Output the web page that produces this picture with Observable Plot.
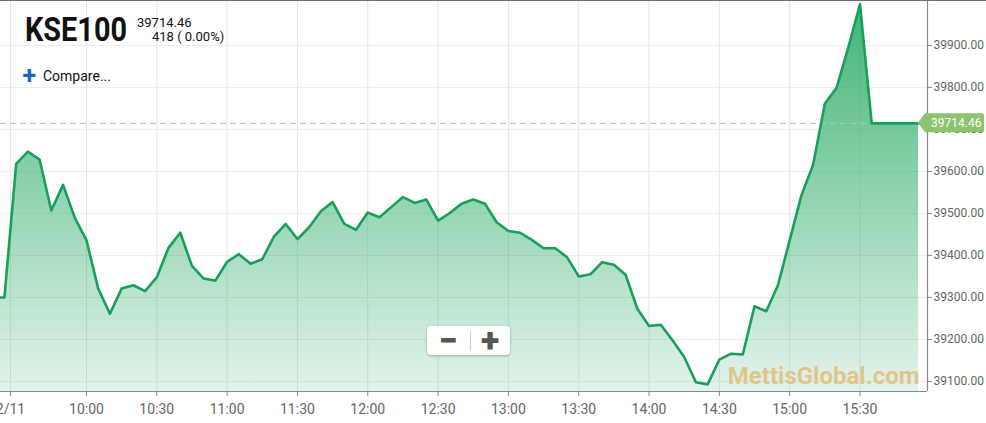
<!DOCTYPE html>
<html>
<head>
<meta charset="utf-8">
<script src="https://cdn.jsdelivr.net/npm/d3@7"></script>
<script src="https://cdn.jsdelivr.net/npm/@observablehq/plot@0.6"></script>
<style>
  html, body { margin: 0; padding: 0; background: #fff; overflow: hidden; }
  #wrap { position: relative; width: 986px; height: 423px; font-family: Roboto, sans-serif; }
  #topline { position: absolute; left: 0; top: 0; width: 986px; height: 1px; background: #6f6f6f; }
  #zoombox { position: absolute; left: 427px; top: 326px; width: 83px; height: 29px; background: #fff;
    border-radius: 4px; box-shadow: 0 1px 3px rgba(0,0,0,0.28); }
  #zoombox .sep { position: absolute; left: 43px; top: 4px; width: 1px; height: 21px; background: #d0d0d0; }
  #zoombox .btn { position: absolute; top: 0; width: 42px; height: 29px; line-height: 29px; text-align: center;
    font-family: Roboto, sans-serif; font-weight: 900; color: #555; font-size: 34px; }
</style>
</head>
<body>
<div id="wrap"></div>
<script>
// ---- data ----
const times = ["09:20","09:25","09:30","09:35","09:40","09:45","09:50","09:55",
  "10:00","10:05","10:10","10:15","10:20","10:25","10:30","10:35","10:40","10:45","10:50","10:55",
  "11:00","11:05","11:10","11:15","11:20","11:25","11:30","11:35","11:40","11:45","11:50","11:55",
  "12:00","12:05","12:10","12:15","12:20","12:25","12:30","12:35","12:40","12:45","12:50","12:55",
  "13:00","13:05","13:10","13:15","13:20","13:25","13:30","13:35","13:40","13:45","13:50","13:55",
  "14:00","14:05","14:10","14:15","14:20","14:25","14:30","14:35","14:40","14:45","14:50","14:55",
  "15:00","15:05","15:10","15:15","15:20","15:25","15:30","15:35","15:40","15:45","15:50","15:55"];
const values = [39300,39300,39618,39647,39628,39507,39568,39490,
  39436,39321,39261,39321,39329,39315,39348,39418,39454,39375,39345,39340,
  39385,39403,39380,39391,39445,39475,39439,39467,39505,39527,39475,39461,
  39502,39491,39515,39539,39525,39533,39483,39501,39523,39533,39523,39479,
  39458,39454,39437,39417,39417,39396,39350,39355,39384,39378,39354,39273,
  39232,39235,39198,39158,39098,39093,39152,39166,39164,39279,39267,39329,
  39436,39543,39616,39761,39799,39895,39998,39714.46,39714.46,39714.46,39714.46,39714.46];
const xTickTimes = ["09:27:35","10:00","10:30","11:00","11:30","12:00","12:30","13:00","13:30","14:00","14:30","15:00","15:30"];
const xTickLabels = ["2/11","10:00","10:30","11:00","11:30","12:00","12:30","13:00","13:30","14:00","14:30","15:00","15:30"];
const yTicks = [39100,39200,39300,39400,39500,39600,39700,39800,39900];
const symbol = "KSE100";
const lastValue = 39714.46;
const changeText = "418 ( 0.00%)";
const watermark = "MettisGlobal.com";

// ---- build ----
const toDate = s => { const [h, m, sec = 0] = s.split(":").map(Number); return new Date(Date.UTC(2019, 1, 11, h, m, sec)); };
const data = times.map((t, i) => ({t: toDate(t), v: values[i]}));
const xTicks = xTickTimes.map(toDate);
const xDomain = [toDate("09:23:19"), toDate("15:58:48")];
const yDomain = [39076, 40007];

const chart = Plot.plot({
  width: 986, height: 423,
  marginLeft: 0, marginRight: 59, marginTop: 0, marginBottom: 32,
  style: {fontFamily: "Roboto, sans-serif", fontSize: "12px", color: "#666", background: "transparent", overflow: "visible"},
  x: {type: "utc", domain: xDomain},
  y: {domain: yDomain},
  marks: [
    Plot.gridX(xTicks, {stroke: "#e6e6e6", strokeOpacity: 1}),
    Plot.gridY(yTicks, {stroke: "#ececec", strokeOpacity: 1}),
    Plot.areaY(data, {x: "t", y1: yDomain[0], y2: "v", fill: "url(#kseGrad)", clip: true}),
    Plot.ruleY([lastValue], {stroke: "#a3d38f", strokeDasharray: "6,4", strokeWidth: 1}),
    Plot.lineY(data, {x: "t", y: "v", stroke: "#17a057", strokeWidth: 2.6, clip: true}),
    Plot.text([watermark], {frameAnchor: "bottom-right", dx: -8, dy: -15, textAnchor: "end", lineAnchor: "middle",
      fill: "#e2c283", fillOpacity: 0.95, fontSize: 24, fontWeight: "bold"}),
    Plot.ruleY([yDomain[0]], {stroke: "#8a8a8a", strokeWidth: 1.2}),
    Plot.ruleX([xDomain[1]], {stroke: "#8a8a8a", strokeWidth: 1.2}),
    Plot.axisX(xTicks, {anchor: "bottom", tickFormat: (d, i) => xTickLabels[i], tickSize: 5, tickPadding: 8,
      fontSize: 14, stroke: "#8a8a8a", fill: "#666", label: null}),
    Plot.axisY(yTicks, {anchor: "right", tickFormat: d => d.toFixed(2), tickSize: 4, tickPadding: 2,
      fontSize: 12, stroke: "#8a8a8a", fill: "#666", label: null})
  ]
});

const svg = d3.select(chart);
svg.insert("defs", ":first-child").html(
  `<linearGradient id="kseGrad" x1="0" y1="0" x2="0" y2="1">
     <stop offset="0" stop-color="#22a760" stop-opacity="0.86"/>
     <stop offset="1" stop-color="#25a862" stop-opacity="0.13"/>
   </linearGradient>`);

// last-price tag on the right axis
const yc = chart.scale("y").apply(lastValue);
const xr = chart.scale("x").apply(xDomain[1]);
const tag = svg.append("g").attr("text-anchor", "start");
tag.append("path")
  .attr("d", `M${xr - 9},${yc} L${xr - 2},${yc - 9.5} L${xr + 55},${yc - 9.5} Q${xr + 57},${yc - 9.5} ${xr + 57},${yc - 7.5} L${xr + 57},${yc + 7.5} Q${xr + 57},${yc + 9.5} ${xr + 55},${yc + 9.5} L${xr - 2},${yc + 9.5} Z`)
  .attr("fill", "#8cc36e");
tag.append("text").attr("x", xr + 4).attr("y", yc + 4.3)
  .attr("fill", "#fff").attr("font-size", 12).attr("font-family", "Roboto, sans-serif")
  .text(lastValue.toFixed(2));

// header
const hdr = svg.append("g").attr("font-family", "Roboto, sans-serif").attr("text-anchor", "start");
hdr.append("text").attr("x", 25).attr("y", 40.6).attr("font-size", 33).attr("font-weight", "bold")
  .attr("fill", "#111").attr("textLength", 102).attr("lengthAdjust", "spacingAndGlyphs").text(symbol);
hdr.append("text").attr("x", 137).attr("y", 26.6).attr("font-size", 13).attr("fill", "#111").text(lastValue.toFixed(2));
hdr.append("text").attr("x", 152).attr("y", 41.4).attr("font-size", 13).attr("fill", "#111").text(changeText);
hdr.append("text").attr("x", 22.5).attr("y", 84).attr("font-size", 25).attr("font-weight", "bold").attr("fill", "#1f66c4").text("+");
hdr.append("text").attr("x", 43).attr("y", 81).attr("font-size", 14).attr("fill", "#111").text("Compare...");

const wrapEl = document.getElementById("wrap");
wrapEl.appendChild(chart);
chart.style.position = "absolute"; chart.style.left = "0"; chart.style.top = "0";
const topLineEl = document.createElement("div"); topLineEl.id = "topline"; wrapEl.appendChild(topLineEl);
const zoomEl = document.createElement("div"); zoomEl.id = "zoombox";
zoomEl.innerHTML = `<div class="btn" style="left:0">−</div><div class="sep"></div><div class="btn" style="left:42px">+</div>`;
wrapEl.appendChild(zoomEl);
</script>
</body>
</html>
